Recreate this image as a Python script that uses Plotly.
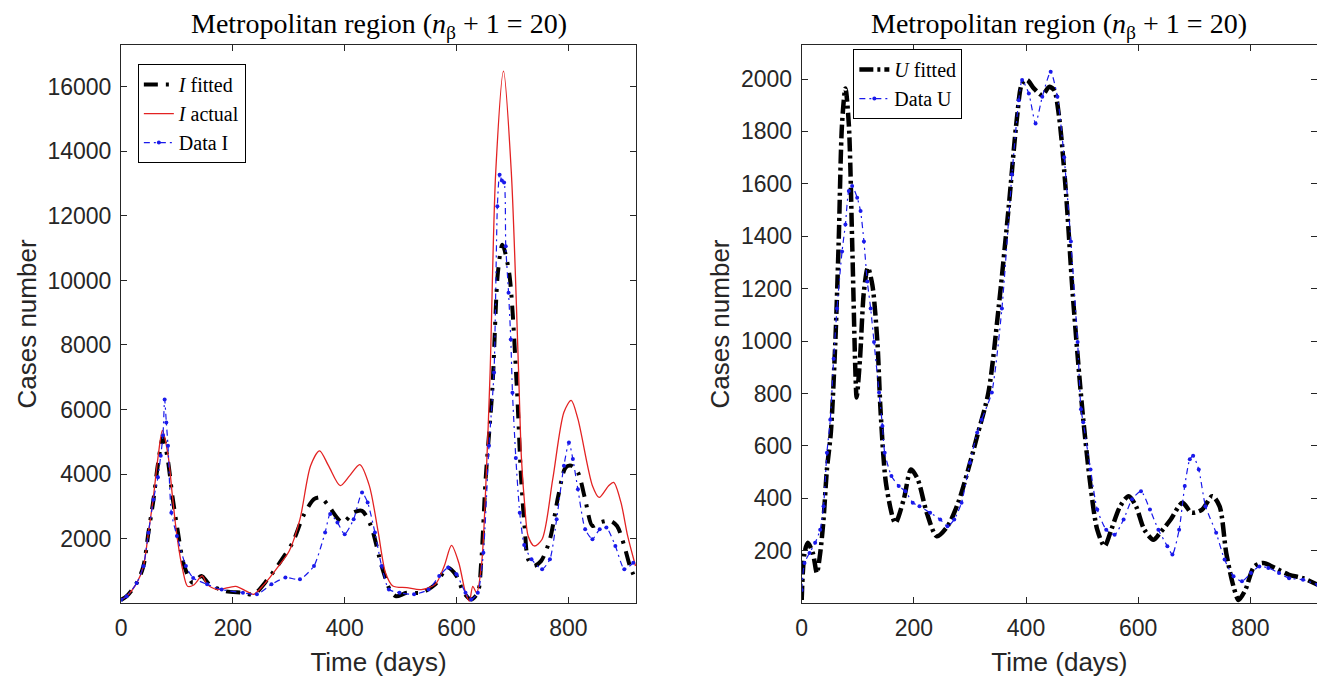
import plotly.graph_objects as go

# ---- left panel: infected ----
i_fit_days = [0, 10, 28, 40, 49, 58, 66, 75, 84, 92, 100, 113, 128, 144, 158, 186, 218, 237, 262, 288,
              307, 326, 345, 357, 371, 396, 416, 431, 447, 466, 482, 492, 511, 537, 562, 584, 600, 613, 626, 638,
              644, 652, 664, 674, 682, 694, 708, 715, 722, 728, 738, 751, 767, 782, 795, 805, 817, 830, 843, 856,
              875, 887, 900, 910, 920]
i_fit = [100, 210, 620, 1140, 2180, 3200, 4300, 5140, 4400, 3300, 2390, 1150, 630, 840, 580, 370, 320, 270, 730, 1360,
         1880, 2700, 3220, 3275, 3015, 2500, 2810, 2860, 2390, 1150, 370, 210, 320, 320, 580, 1100, 840, 320, 110, 320,
         1250, 3840, 6620, 10250, 11110, 10250, 6620, 4000, 2290, 1360, 1150, 1300, 1980, 3330, 4200, 4260, 4050, 3220, 2390, 2500,
         2550, 2390, 1770, 1150, 735]

i_act_days = [0, 10, 28, 40, 49, 58, 66, 74, 84, 92, 100, 110, 119, 130, 145, 154, 173, 205, 224, 237,
              256, 282, 301, 320, 339, 355, 371, 392, 409, 427, 444, 460, 473, 486, 511, 537, 562, 578, 591, 604,
              616, 623, 629, 636, 645, 652, 660, 670, 684, 698, 711, 716, 722, 728, 739, 753, 772, 792, 805, 817,
              843, 855, 872, 881, 894, 906, 920]
i_act = [100, 210, 620, 1140, 2180, 3300, 4500, 5350, 4600, 3300, 2080, 1050, 520, 560, 840, 580, 420, 520, 370, 270,
         580, 1150, 1620, 2600, 4260, 4720, 4260, 3640, 3950, 4290, 3640, 2190, 940, 530, 480, 420, 580, 1150, 1790, 1250,
         320, 60, 520, 320, 1250, 3500, 7150, 13340, 16490, 13340, 7150, 4500, 3015, 2080, 1770, 1980, 3840, 5915, 6280, 5710,
         3640, 3275, 3640, 3740, 3120, 2080, 1150]

i_dat_days = [0, 10, 28, 40, 49, 58, 66, 71, 75, 78, 81, 84, 90, 100, 116, 129, 154, 180, 218, 243,
              269, 294, 320, 345, 365, 374, 387, 400, 416, 431, 441, 454, 466, 479, 498, 524, 550, 569, 585, 600,
              616, 626, 638, 648, 658, 667, 673, 677, 681, 685, 688, 693, 697, 700, 706, 713, 721, 734, 753, 767,
              779, 792, 801, 808, 817, 830, 843, 856, 868, 884, 900, 916]
i_dat = [100, 210, 620, 1140, 2180, 3210, 3900, 4570, 5200, 6310, 5600, 4880, 2800, 2080, 1150, 780, 580, 420, 320, 270,
         580, 790, 735, 1150, 2190, 2760, 2500, 2135, 2600, 3430, 3120, 2190, 1150, 420, 320, 270, 420, 840, 1100, 890,
         320, 110, 320, 1560, 4880, 7150, 12300, 13280, 13100, 13040, 11060, 9620, 8170, 6520, 4500, 2800, 1800, 1360, 1050, 1360,
         2600, 4260, 4980, 4465, 3530, 2290, 1980, 2290, 2340, 1770, 1050, 1250]

# ---- right panel: U ----
u_fit_days = [0, 5, 11, 20, 27, 33, 39, 45, 52, 60, 66, 72, 78, 84, 90, 96, 98, 104, 111, 118,
              126, 135, 141, 151, 167, 182, 195, 207, 223, 241, 260, 279, 297, 313, 333, 351, 369, 384, 393, 402,
              414, 429, 441, 450, 459, 471, 483, 495, 502, 515, 527, 540, 552, 568, 583, 596, 611, 627, 639, 658,
              679, 695, 714, 732, 745, 757, 770, 779, 791, 807, 823, 844, 869, 894, 920]
u_fit = [12, 190, 230, 190, 115, 190, 320, 510, 650, 996, 1380, 1830, 1964, 1830, 1380, 868, 785, 932, 1190, 1280,
         1214, 996, 720, 447, 306, 396, 510, 472, 345, 255, 293, 383, 510, 638, 804, 1124, 1509, 1855, 1983, 1996,
         1964, 1938, 1970, 1958, 1855, 1573, 1188, 868, 702, 447, 280, 217, 280, 370, 408, 370, 280, 242, 268, 319,
         383, 345, 357, 408, 370, 191, 63, 12, 50, 140, 153, 134, 108, 95, 70]

u_dat_days = [0, 5, 14, 24, 33, 39, 45, 51, 57, 63, 72, 78, 84, 90, 99, 105, 111, 117, 123, 129,
              138, 144, 148, 160, 173, 185, 198, 210, 229, 247, 260, 272, 285, 300, 313, 321, 339, 357, 375, 387,
              393, 405, 417, 429, 444, 456, 468, 480, 492, 498, 502, 515, 527, 543, 558, 574, 589, 605, 621, 636,
              652, 661, 673, 683, 692, 698, 708, 720, 739, 754, 770, 785, 801, 816, 832, 851, 869, 894, 920]
u_dat = [50, 153, 191, 230, 280, 370, 574, 700, 932, 1124, 1342, 1445, 1573, 1592, 1547, 1496, 1380, 1227, 1124, 996,
         804, 676, 574, 485, 447, 427, 383, 370, 345, 319, 293, 319, 383, 536, 651, 700, 804, 1124, 1637, 1919,
         1996, 1945, 1830, 1932, 2028, 1932, 1701, 1380, 996, 740, 690, 510, 357, 280, 261, 319, 396, 427, 357, 280,
         217, 185, 280, 447, 549, 562, 510, 370, 268, 166, 102, 83, 115, 140, 134, 115, 95, 89, 70]

x_ticks = [0, 200, 400, 600, 800]
i_ticks = [2000, 4000, 6000, 8000, 10000, 12000, 14000, 16000]
u_ticks = [200, 400, 600, 800, 1000, 1200, 1400, 1600, 1800, 2000]

title_txt = "Metropolitan region (<i>n</i><sub>β</sub> + 1 = 20)"

RED = "#e32222"
BLUE = "#1a1aeb"
AX = "#262626"
SANS = "Liberation Sans, Arial"
SERIF = "Liberation Serif, Times New Roman"

fig = go.Figure()

fig.add_trace(go.Scatter(x=i_fit_days, y=i_fit, name="<i>I</i> fitted", mode="lines",
                         line=dict(color="black", width=4, dash="14px,8px,3px,8px", shape="spline", smoothing=0.8),
                         xaxis="x", yaxis="y", legend="legend"))
fig.add_trace(go.Scatter(x=i_act_days, y=i_act, name="<i>I</i> actual", mode="lines",
                         line=dict(color=RED, width=1.3, shape="spline", smoothing=0.8),
                         xaxis="x", yaxis="y", legend="legend"))
fig.add_trace(go.Scatter(x=i_dat_days, y=i_dat, name="Data I", mode="lines+markers",
                         line=dict(color=BLUE, width=1.2, dash="6px,4px,2px,4px", shape="spline", smoothing=0.6),
                         marker=dict(color=BLUE, size=4),
                         xaxis="x", yaxis="y", legend="legend"))

fig.add_trace(go.Scatter(x=u_fit_days, y=u_fit, name="<i>U</i> fitted", mode="lines",
                         line=dict(color="black", width=4.5, dash="14px,4px,3px,4px", shape="spline", smoothing=0.8),
                         xaxis="x2", yaxis="y2", legend="legend2"))
fig.add_trace(go.Scatter(x=u_dat_days, y=u_dat, name="Data U", mode="lines+markers",
                         line=dict(color=BLUE, width=1.2, dash="6px,4px,2px,4px", shape="spline", smoothing=0.6),
                         marker=dict(color=BLUE, size=4),
                         xaxis="x2", yaxis="y2", legend="legend2"))

axis_common = dict(showline=True, mirror="ticks", linecolor=AX, linewidth=1, ticks="inside", ticklen=6,
                   tickcolor=AX, showgrid=False, zeroline=False, automargin=False, tickformat="d",
                   ticklabelstandoff=4, tickfont=dict(family=SANS, size=23, color=AX))
xtitle = dict(text="Time (days)", font=dict(family=SANS, size=26, color=AX), standoff=13)
ytitle = dict(text="Cases number", font=dict(family=SANS, size=26, color=AX), standoff=3)

legend_common = dict(xanchor="left", yanchor="top", bordercolor="black", borderwidth=1, bgcolor="white",
                     font=dict(family=SERIF, size=20, color="black"), tracegroupgap=0)

# page body adds an 8px offset, domains below are compensated for it
fig.update_layout(
    width=1325, height=684,
    margin=dict(l=0, r=0, t=0, b=0),
    paper_bgcolor="white", plot_bgcolor="white",
    xaxis=dict(domain=[0.0853, 0.474], range=[0, 921], tickvals=x_ticks, title=xtitle, anchor="y", **axis_common),
    yaxis=dict(domain=[0.130, 0.946], range=[0, 17300], tickvals=i_ticks, title=ytitle, anchor="x", **axis_common),
    xaxis2=dict(domain=[0.599, 0.988], range=[0, 919], tickvals=x_ticks, title=xtitle, anchor="y2", **axis_common),
    yaxis2=dict(domain=[0.130, 0.946], range=[0, 2130], tickvals=u_ticks, title=ytitle, anchor="x2", **axis_common),
    legend=dict(x=0.098, y=0.918, **legend_common),
    legend2=dict(x=0.638, y=0.940, **legend_common),
    showlegend=True,
    annotations=[
        dict(text=title_txt, x=0.2797, y=0.974, xref="paper", yref="paper", showarrow=False,
             xanchor="center", yanchor="middle", font=dict(family=SERIF, size=28, color="black")),
        dict(text=title_txt, x=0.7935, y=0.974, xref="paper", yref="paper", showarrow=False,
             xanchor="center", yanchor="middle", font=dict(family=SERIF, size=28, color="black")),
    ],
)

fig.write_html("out.html")
